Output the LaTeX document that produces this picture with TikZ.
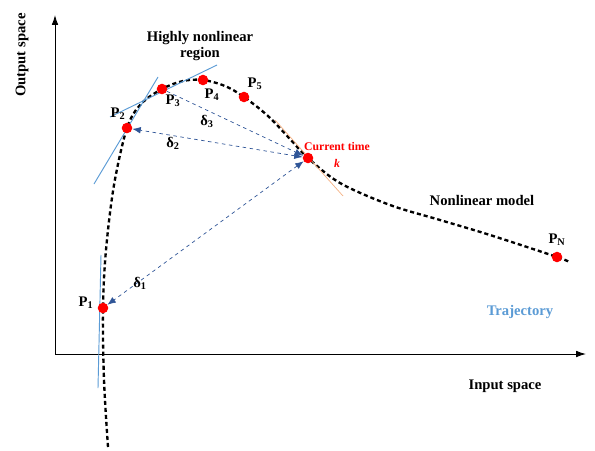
\documentclass[tikz,border=0pt]{standalone}
\usepackage{fontspec}
\setmainfont{Liberation Serif}
\usepackage{tikz}
\usetikzlibrary{arrows.meta,calc,positioning}
\tikzset{>=Latex}
\definecolor{tanblue}{HTML}{5B9BD5}
\definecolor{tanorange}{HTML}{F4B183}
\definecolor{distblue}{HTML}{2F5597}
\definecolor{ptred}{HTML}{FF0000}
\tikzset{
  axis/.style={-{Latex[length=3mm,width=2mm]}, thick},
  model/.style={line width=2pt, dash pattern=on 3.5pt off 2.5pt},
  dot/.style={circle, fill=ptred, inner sep=0pt, minimum size=9pt},
  tangent/.style={draw=tanblue, thick},
  dist/.style={{Latex[length=2.5mm,width=2mm]}-{Latex[length=2.5mm,width=2mm]}, draw=distblue, dashed, semithick},
  distone/.style={-{Latex[length=2.5mm,width=2mm]}, draw=distblue, dashed, semithick},
  lbl/.style={font=\bfseries\fontsize{12.5}{14}\selectfont, inner sep=1pt, align=center},
}

\begin{document}
\begin{tikzpicture}[x=0.03cm, y=-0.03cm]
\useasboundingbox (0,0) rectangle (595,450);

% --- axes ---
\coordinate (O) at (55,354);
\coordinate (ytip) at (55,15);
\coordinate (xtip) at (586,354);
\draw[axis] (O) -- (ytip);
\draw[axis] (O) -- (xtip);
\node[lbl, rotate=90] (ylab) at (22,55) {Output space};
\node[lbl] (xlab) at (505,386) {Input space};

% --- nonlinear model ---
\draw[model] plot[smooth, tension=0.55] coordinates {
  (108,447) (104,380) (103,308) (106,250) (114,185) (127,128)
  (141,104) (162,89) (183,81) (203,80) (225,86) (244,97)
  (268,116) (290,139) (308,158) (340,183) (390,205)
  (440,220) (490,235) (557,257) (569,262)};

% --- tangents ---
\draw[tangent] (101,255) -- (98,388);
\draw[tangent] (94,184) -- (158,77);
\draw[tangent] (110,117) -- (217,65);
\draw[draw=tanorange, semithick] (275,120) -- (343,196);

% --- points ---
\node[dot] (P1) at (103,308) {};
\node[dot] (P2) at (127,128) {};
\node[dot] (P3) at (162,89) {};
\node[dot] (P4) at (203,80) {};
\node[dot] (P5) at (244,97) {};
\node[dot] (K) at (308,158) {};
\node[dot] (PN) at (557,257) {};

\node[lbl] (l1) at (86,303) {P\textsubscript{1}};
\node[lbl] (l2) at (118,114) {P\textsubscript{2}};
\node[lbl] (l3) at (173,101) {P\textsubscript{3}};
\node[lbl] (l4) at (212,95) {P\textsubscript{4}};
\node[lbl] (l5) at (255,84) {P\textsubscript{5}};
\node[lbl] (lN) at (557,240) {P\textsubscript{N}};
\node[lbl, text=ptred, font=\bfseries\fontsize{10}{14}\selectfont] (lK) at (337,155)
  {Current time\\\textit{k}};

% --- distances ---
\draw[dist] (K) -- (P1);
\draw[dist] (K) -- (P2);
\draw[distone] (P3) -- (K);
\node[lbl] (d1) at (140,283) {δ\textsubscript{1}};
\node[lbl] (d2) at (173,143) {δ\textsubscript{2}};
\node[lbl] (d3) at (207,121) {δ\textsubscript{3}};

% --- text ---
\node[lbl] (hnr) at (200,46) {Highly nonlinear\\region};
\node[lbl] (nlm) at (482,200) {Nonlinear model};
\node[lbl, text=tanblue] (traj) at (520,312) {Trajectory};

\end{tikzpicture}
\end{document}
